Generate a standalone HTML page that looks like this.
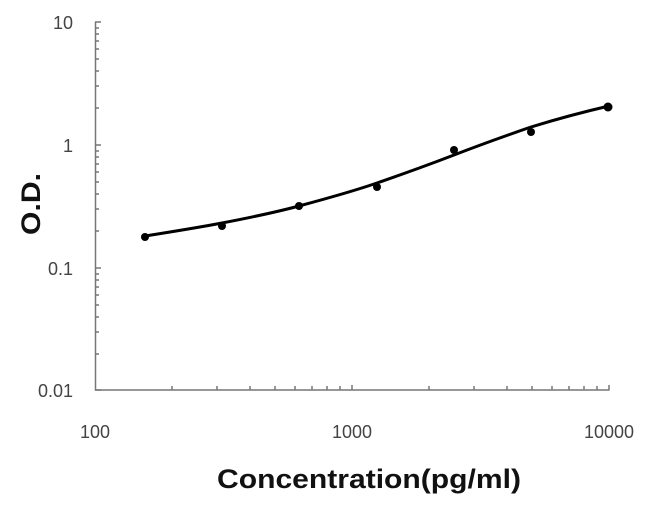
<!DOCTYPE html>
<html><head><style>body{margin:0;background:#fff}svg{display:block}</style></head><body>
<svg width="650" height="513" xmlns="http://www.w3.org/2000/svg" font-family="Liberation Sans, sans-serif">
<g stroke="#777" stroke-width="1.5" fill="none">
<path d="M95.5,22 V390 H609.5"/>
<path d="M95,22h6M95,145h6M95,268h6M95,390h6
M95,28h4M95,34h4M95,41h4M95,49h4M95,59h4M95,71h4M95,86h4M95,108h4
M95,151h4M95,157h4M95,164h4M95,172h4M95,182h4M95,194h4M95,209h4M95,231h4
M95,274h4M95,280h4M95,287h4M95,295h4M95,305h4M95,317h4M95,332h4M95,354h4"/>
<path d="M172,390v-4M217,390v-4M250,390v-4M275,390v-4M295,390v-4M312,390v-4M327,390v-4M340,390v-4M352,390v-5
M429,390v-4M474,390v-4M507,390v-4M532,390v-4M552,390v-4M569,390v-4M584,390v-4M597,390v-4M609,390v-5"/>
</g>
<g fill="#444" font-size="18" text-anchor="end">
<text x="73" y="29">10</text><text x="73" y="152">1</text><text x="73" y="275">0.1</text><text x="73" y="397">0.01</text>
</g>
<g fill="#444" font-size="18" text-anchor="middle">
<text x="95" y="438">100</text><text x="352" y="438">1000</text><text x="609" y="438">10000</text>
</g>
<text x="217" y="488" font-size="27" font-weight="bold" textLength="304" lengthAdjust="spacingAndGlyphs" fill="#111">Concentration(pg/ml)</text>
<text transform="translate(40,235) rotate(-90)" font-size="27" font-weight="bold" textLength="62" lengthAdjust="spacingAndGlyphs" fill="#111">O.D.</text>
<path d="M145,236 C170,232 196,228 222,223 C248,218 273,213 299,206 C325,199 351,192 377,183 C403,174 428,165 454,155 C480,145 505,136 531,127 C557,119 583,112 609,106" stroke="#000" stroke-width="3" fill="none"/>
<g fill="#000">
<circle cx="145" cy="237" r="4"/><circle cx="222" cy="226" r="4"/><circle cx="299" cy="206" r="4"/><circle cx="377" cy="187" r="4"/><circle cx="454" cy="150" r="4"/><circle cx="531" cy="132" r="4"/><circle cx="608" cy="107" r="4.5"/>
</g>
</svg>
</body></html>
